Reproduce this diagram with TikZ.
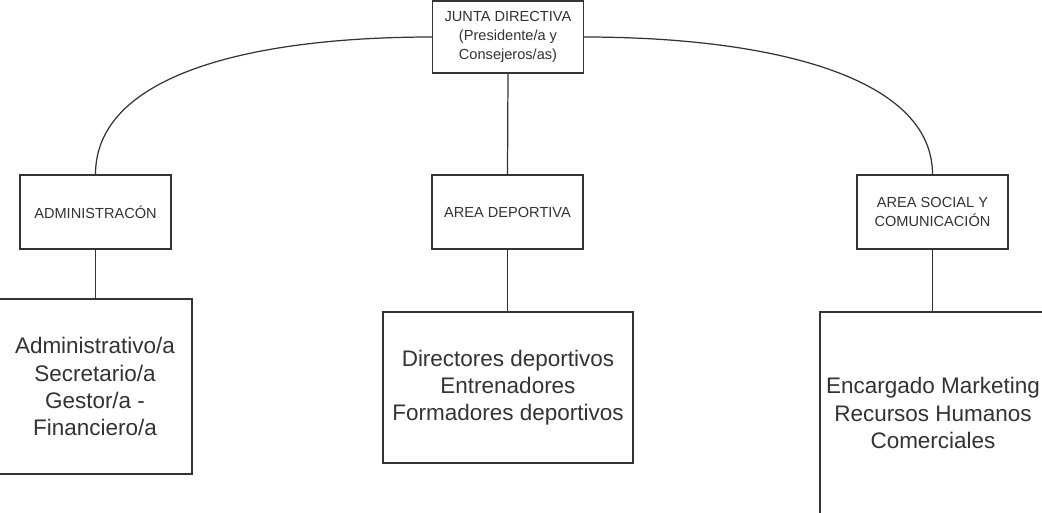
\documentclass[tikz,border=0pt]{standalone}
\usepackage{fontspec}
\setmainfont{Liberation Sans}
\usetikzlibrary{positioning}

\begin{document}
\begin{tikzpicture}[
    x=0.02cm, y=-0.02cm,
    % Estilos de los nodos
    every node/.style={text=black!80, align=center, inner sep=2pt},
    area/.style={draw=black!80, line width=0.7pt, fill=white,
                 minimum width=151*0.02cm, minimum height=74*0.02cm,
                 font=\fontsize{8.3}{10.6}\selectfont},
    staff/.style={draw=black!80, line width=0.7pt, fill=white,
                  font=\fontsize{12.8}{15.4}\selectfont},
    link/.style={draw=black!80, line width=0.7pt}
]
\useasboundingbox (0,0) rectangle (1042,512);
\clip (0,0) rectangle (1042,512);

% Raiz
\node[area, minimum height=72*0.02cm] (junta) at (508,37)
    {JUNTA DIRECTIVA\\(Presidente/a y\\Consejeros/as)};

% Nivel 1 - Areas
\node[area] (admin)  at (95.5,212)  {ADMINISTRAC\'ON};
\node[area] (sport)  at (507.5,212) {AREA DEPORTIVA};
\node[area] (social) at (932.5,212) {AREA SOCIAL Y\\COMUNICACI\'ON};

% Nivel 2 - Personal
\node[staff, minimum width=194*0.02cm, minimum height=175*0.02cm] (admin_staff) at (95,386.5)
    {Administrativo/a\\Secretario/a\\Gestor/a -\\Financiero/a};
\node[staff, minimum width=250*0.02cm, minimum height=151*0.02cm] (sport_staff) at (508,387.5)
    {Directores deportivos\\Entrenadores\\Formadores deportivos};
\node[staff, minimum width=226*0.02cm, minimum height=202*0.02cm] (social_staff) at (933,413)
    {Encargado Marketing\\Recursos Humanos\\Comerciales};

% Conectores
\draw[link] (junta.west) .. controls (250,37) and (95.5,75) .. (admin.north);
\draw[link] (junta.east) .. controls (766,37) and (932.5,75) .. (social.north);
\draw[link] (junta.south) -- (sport.north);

\draw[link] (admin.south) -- (admin.south |- admin_staff.north);
\draw[link] (sport.south) -- (sport.south |- sport_staff.north);
\draw[link] (social.south) -- (social.south |- social_staff.north);

\end{tikzpicture}
\end{document}
